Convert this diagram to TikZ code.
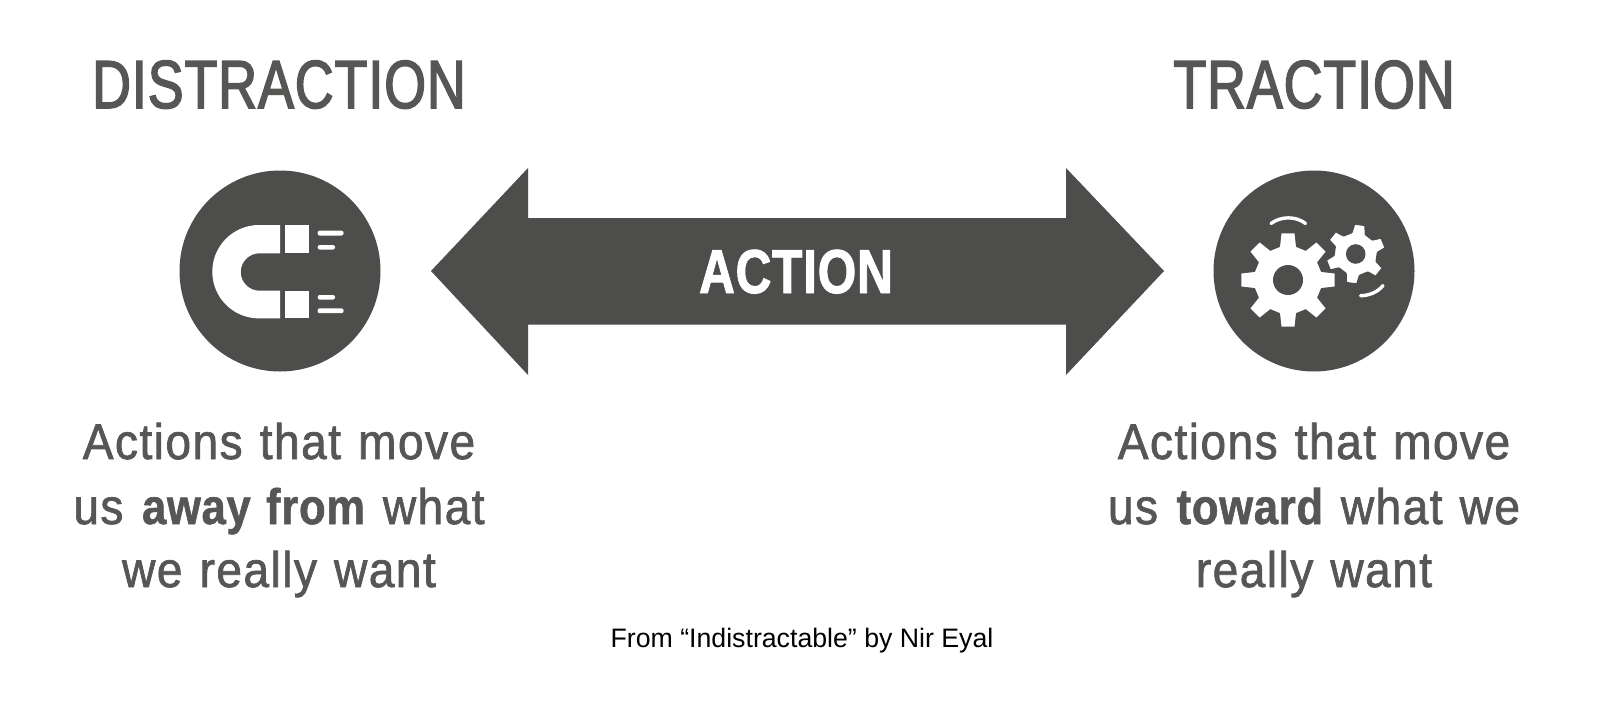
\documentclass[tikz,border=0pt]{standalone}
\usepackage{fontspec}
\setmainfont{Liberation Sans}
\newfontfamily\headfont[FakeStretch=0.79,FakeBold=2.2,LetterSpace=1.4]{Liberation Sans}
\newfontfamily\arrowfont[FakeStretch=0.80,FakeBold=1.5,LetterSpace=1.2]{Liberation Sans}
\newfontfamily\bodyfont[FakeStretch=0.92,FakeBold=1.4,LetterSpace=3,WordSpace=1.2,BoldFeatures={FakeStretch=0.87,LetterSpace=1.5,FakeBold=1.2}]{Liberation Sans}
\definecolor{dark}{HTML}{4D4D4B}
\definecolor{txt}{HTML}{565654}
\tikzset{
  headlabel/.style={anchor=base,text=txt,inner sep=0pt,font=\headfont\fontsize{34}{34}\selectfont},
  bodylabel/.style={anchor=base,text=txt,inner sep=0pt,font=\bodyfont\fontsize{25}{25}\selectfont},
  arrowlabel/.style={anchor=base,text=white,inner sep=0pt,font=\arrowfont\bfseries\fontsize{31}{31}\selectfont},
  footlabel/.style={anchor=base,text=black,inner sep=0pt,font=\fontsize{13.35}{13.35}\selectfont},
  whitebar/.style={fill=white,rounded corners=1pt},
  swoosh/.style={draw=white,line width=1.7pt,line cap=round},
  gearbig/.style={fill=white},
  gearsmall/.style={fill=white,draw=dark,line width=1.5pt,line join=round},
}
% style cx cy R r w rot n
\newcommand{\drawgear}[8]{%
  \pgfmathsetmacro{\stepang}{360/#8}%
  \pgfmathsetmacro{\dR}{asin(#6/#4)}%
  \pgfmathsetmacro{\dr}{asin((#6+1.5)/#5)}%
  \path[#1] ({#2+#5*cos(#7-\dr)},{#3-#5*sin(#7-\dr)})
  \foreach \k [evaluate=\k as \aa using #7+(\k-1)*\stepang] in {1,...,#8}{
    -- ({#2+#5*cos(\aa-\dr)},{#3-#5*sin(\aa-\dr)})
    -- ({#2+#4*cos(\aa-\dR)},{#3-#4*sin(\aa-\dR)})
    -- ({#2+#4*cos(\aa+\dR)},{#3-#4*sin(\aa+\dR)})
    -- ({#2+#5*cos(\aa+\dr)},{#3-#5*sin(\aa+\dr)})
  } -- cycle;}
\begin{document}
\begin{tikzpicture}[x=0.5pt,y=-0.5pt]
\useasboundingbox (0,0) rectangle (1600,722);
\fill[white] (0,0) rectangle (1600,722);
% titles
\node[headlabel] (t1) at (279,108) {DISTRACTION};
\node[headlabel] (t2) at (1314,108) {TRACTION};
% left circle + magnet
\fill[dark] (280,271) circle[radius=100.5];
\fill[white] (280,225) -- (259,225) arc[start angle=-90,end angle=-270,radius=46.7] -- (280,318.4) -- (280,290.7) -- (259.4,290.7)
  arc[start angle=90,end angle=270,radius=18.7] -- (280,253.3) -- cycle;
\fill[white] (285,225) rectangle (309,252.7);
\fill[white] (285,290.7) rectangle (309,318.4);
\fill[whitebar] (317.7,230.7) rectangle (343.5,235.5);
\fill[whitebar] (317.7,245) rectangle (335,249.5);
\fill[whitebar] (317.7,295) rectangle (335,299.5);
\fill[whitebar] (317.7,308.3) rectangle (343.5,313.2);
% arrow
\fill[dark] (431,271) -- (528,168) -- (528,218) -- (1066,218) -- (1066,168) -- (1164,271) -- (1066,375) -- (1066,324.5) -- (528,324.5) -- (528,375) -- cycle;
\node[arrowlabel] (a) at (796,293) {ACTION};
% right circle + gears
\fill[dark] (1314,271) circle[radius=100.5];
\drawgear{gearbig}{1288}{280}{47}{34}{6.5}{0}{8}
\fill[dark] (1288,280) circle[radius=15];
\drawgear{gearsmall}{1355.7}{254}{31}{22.5}{6}{22}{6}
\fill[dark] (1355.7,254) circle[radius=9.8];
\draw[swoosh] (1271,223.5) .. controls (1281,216) and (1296,216) .. (1305.5,223.5);
\draw[swoosh] (1360.5,295.7) .. controls (1369,295.7) and (1378,292) .. (1383,285.5);
% descriptions
\node[bodylabel] (l1) at (279,459) {Actions that move};
\node[bodylabel] (l2) at (279,524) {us \textbf{away from} what};
\node[bodylabel] (l3) at (279,587) {we really want};
\node[bodylabel] (r1) at (1314,459) {Actions that move};
\node[bodylabel] (r2) at (1314,524) {us \textbf{toward} what we};
\node[bodylabel] (r3) at (1314,587) {really want};
\node[footlabel] (f) at (802,647) {From “Indistractable” by Nir Eyal};
\end{tikzpicture}
\end{document}
